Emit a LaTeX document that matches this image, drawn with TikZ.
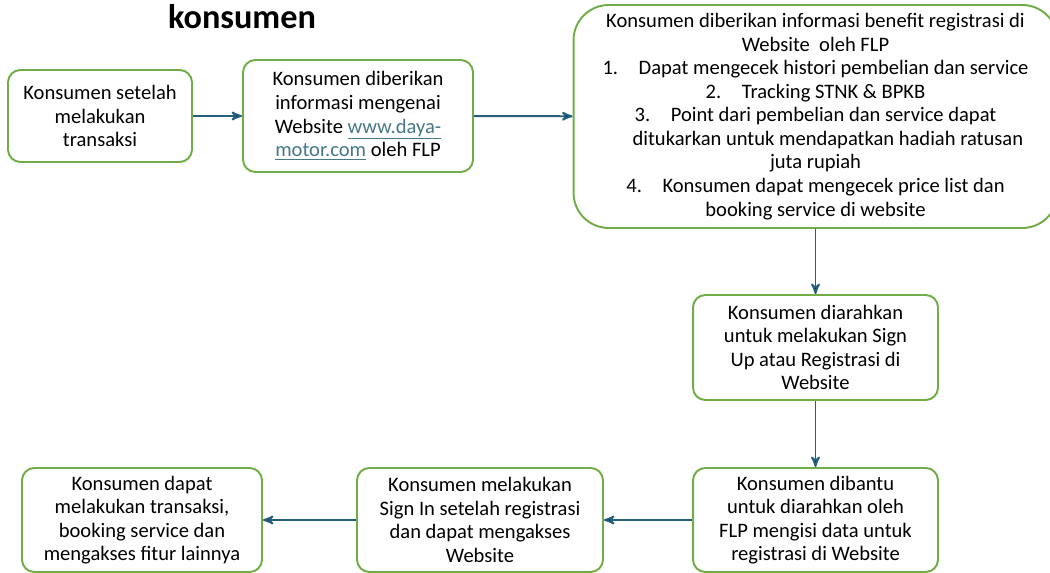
\documentclass[tikz,border=0pt]{standalone}
\usepackage{fontspec}
\setmainfont{Carlito}
\usetikzlibrary{shapes, arrows, positioning}

\definecolor{boxgreen}{HTML}{70AD47}
\definecolor{flowblue}{HTML}{24607E}
\definecolor{linkblue}{HTML}{467886}

\begin{document}
\begin{tikzpicture}[
  x=0.02cm, y=-0.02cm,
  box/.style={draw=boxgreen, line width=1.1pt, rounded corners=7pt, align=center,
    inner sep=2pt, font=\fontsize{11.7}{13.4}\selectfont},
  flow/.style={draw=flowblue, line width=1.1pt},
  thick]

  \useasboundingbox (0,0) rectangle (1050,573);

  \node[font=\fontsize{19.5}{22}\selectfont\bfseries] (title) at (242,17) {konsumen};

  % top row
  \node[box, minimum width=3.68cm, minimum height=1.84cm] (transaksi) at (100,116)
    {Konsumen setelah\\ melakukan\\ transaksi};
  \node[box, minimum width=4.6cm, minimum height=2.24cm] (info) at (358,116)
    {Konsumen diberikan\\ informasi mengenai\\ Website \textcolor{linkblue}{\underline{www.daya-}}\\
     \textcolor{linkblue}{\underline{motor.com}} oleh FLP};
  \node[box, rounded corners=20pt, minimum width=9.68cm, minimum height=4.46cm] (benefit) at (815.5,116.5)
    {Konsumen diberikan informasi benefit registrasi di\\
     Website\ \ oleh FLP\\
     1.\quad Dapat mengecek histori pembelian dan service\\
     2.\quad Tracking STNK \& BPKB\\
     3.\quad Point dari pembelian dan service dapat\\
     \hspace*{1.2em}ditukarkan untuk mendapatkan hadiah ratusan\\
     juta rupiah\\
     4.\quad Konsumen dapat mengecek price list dan\\
     booking service di website};

  % right column
  \node[box, minimum width=4.9cm, minimum height=2.1cm] (signup) at (815.5,347.5)
    {Konsumen diarahkan\\ untuk melakukan Sign\\ Up atau Registrasi di\\ Website};
  \node[box, minimum width=4.9cm, minimum height=2.08cm] (dibantu) at (815.5,520)
    {Konsumen dibantu\\ untuk diarahkan oleh\\ FLP mengisi data untuk\\ registrasi di Website};

  % bottom row
  \node[box, minimum width=4.92cm, minimum height=2.08cm] (signin) at (480,520)
    {Konsumen melakukan\\ Sign In setelah registrasi\\ dan dapat mengakses\\ Website};
  \node[box, minimum width=4.8cm, minimum height=2.08cm] (fitur) at (142,520)
    {Konsumen dapat\\ melakukan transaksi,\\ booking service dan\\ mengakses fitur lainnya};

  \path[->, >=stealth', flow]
    (transaksi) edge (info)
    (info) edge (benefit)
    (benefit) edge (signup)
    (signup) edge (dibantu)
    (dibantu) edge (signin)
    (signin) edge (fitur);
\end{tikzpicture}
\end{document}
